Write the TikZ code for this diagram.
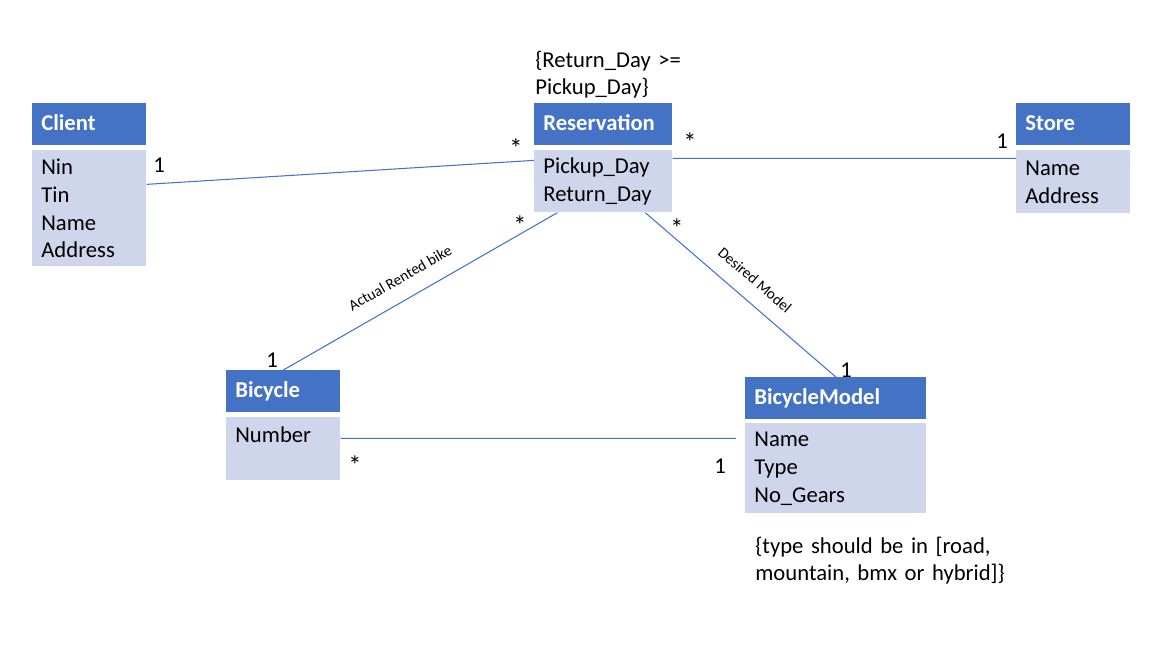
\documentclass[tikz,border=0pt]{standalone}
\usepackage{fontspec}
\setmainfont{Carlito}
\definecolor{hdrblue}{HTML}{4472C4}
\definecolor{bodyblue}{HTML}{CFD5EA}
\tikzset{
  clshead/.style={anchor=north west, fill=hdrblue, text=white, font=\bfseries\fontsize{12.9}{15.9}\selectfont,
    inner xsep=0.18cm, inner ysep=0pt, minimum height=0.84cm, text height=9pt, text depth=2.2pt, text width=#1},
  clsbody/.style={anchor=north west, fill=bodyblue, font=\fontsize{12.9}{15.9}\selectfont,
    inner xsep=0.18cm, inner ysep=0pt, align=left, text width=#1},
  assoc/.style={hdrblue, line width=0.6pt},
  mult/.style={anchor=base, font=\fontsize{12.9}{15.9}\selectfont, inner sep=0pt},
  manym/.style={mult, font=\fontsize{15}{18}\selectfont},
  role/.style={font=\fontsize{8.7}{10}\selectfont, inner sep=0pt},
  note/.style={anchor=base west, font=\fontsize{12.9}{15.9}\selectfont, text width=6cm, align=left, inner sep=0pt}
}
\begin{document}
\begin{tikzpicture}[x=0.02cm, y=-0.02cm]
	\useasboundingbox (0,0) rectangle (1151,657);
	\node[clshead=1.92cm] (clientH) at (32,103) {Client};
	\node[clsbody=1.92cm, minimum height=2.32cm] (clientB) at (32,150) {Nin\\Tin\\Name\\Address};
	\node[clshead=2.40cm] (resH) at (534,103) {Reservation};
	\node[clsbody=2.40cm, minimum height=1.24cm] (resB) at (534,150) {Pickup\_Day\\Return\_Day};
	\node[clshead=1.92cm] (storeH) at (1016,103) {Store};
	\node[clsbody=1.92cm, minimum height=1.26cm] (storeB) at (1016,150) {Name\\Address};
	\node[clshead=1.92cm] (bikeH) at (226,370) {Bicycle};
	\node[clsbody=1.92cm, minimum height=1.26cm] (bikeB) at (226,417) {Number\\\phantom{Number}};
	\node[clshead=3.26cm] (modelH) at (745,377) {BicycleModel};
	\node[clsbody=3.26cm, minimum height=1.80cm] (modelB) at (745,423) {Name\\Type\\No\_Gears};
	\draw[assoc] ([yshift=0.48cm]clientB.east) -- ([yshift=0.42cm]resB.west);
	\draw[assoc] ([yshift=0.46cm]resB.east) -- ([yshift=0.47cm]storeB.west);
	\draw[assoc] ([xshift=-0.92cm]resB.south) -- (bikeH.north);
	\draw[assoc] ([xshift=0.84cm]resB.south) -- (modelH.north);
	\draw[assoc] ([yshift=0.21cm]bikeB.east) -- ([xshift=-0.18cm, yshift=0.6cm]modelB.west);
	\node[mult] (clientM) at (159,172) {1};
	\node[manym] (resClientM) at (516,157) {*};
	\node[manym] (resStoreM) at (690,151) {*};
	\node[mult] (storeM) at (1002,148) {1};
	\node[manym] (resBikeM) at (520,234) {*};
	\node[manym] (resModelM) at (677,237) {*};
	\node[mult] (bikeResM) at (272,367) {1};
	\node[mult] (modelResM) at (846,377) {1};
	\node[manym] (bikeModelM) at (355,474) {*};
	\node[mult] (modelBikeM) at (720,473) {1};
	\node[role, rotate=29.8] (rented) at (400,278) {Actual Rented bike};
	\node[role, rotate=-40.6] (desired) at (755,280) {Desired Model};
	\node[note] (resNote) at (535,67) {\{Return\_Day >=\\Pickup\_Day\}};
	\node[note] (modelNote) at (755,553) {\{type should be in [road,\\mountain, bmx or hybrid]\}};
\end{tikzpicture}
\end{document}
